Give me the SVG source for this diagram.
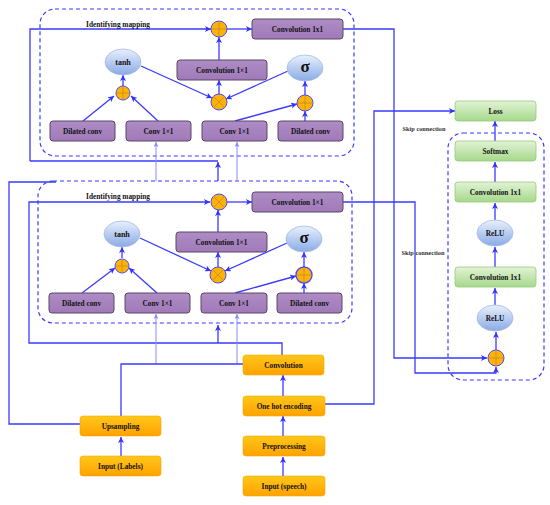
<svg xmlns="http://www.w3.org/2000/svg" width="550" height="505" viewBox="0 0 550 505">
<defs>
<linearGradient id="gOr" x1="0" y1="0" x2="0" y2="1"><stop offset="0" stop-color="#ffc71a"/><stop offset="1" stop-color="#ffa200"/></linearGradient>
<linearGradient id="gGr" x1="0" y1="0" x2="0" y2="1"><stop offset="0" stop-color="#e2f3d6"/><stop offset="1" stop-color="#a6d88b"/></linearGradient>
<linearGradient id="gPu" x1="0" y1="0" x2="0" y2="1"><stop offset="0" stop-color="#ae8cc4"/><stop offset="1" stop-color="#a07ab9"/></linearGradient>
<linearGradient id="gEl" x1="0" y1="0" x2="0" y2="1"><stop offset="0" stop-color="#e8f0fc"/><stop offset="1" stop-color="#8aaae6"/></linearGradient>
<marker id="ar" viewBox="0 0 10 10" refX="10" refY="5" markerWidth="6" markerHeight="6" markerUnits="userSpaceOnUse" orient="auto"><path d="M0,0 L10,5 L0,10 L2.5,5 z" fill="#3333ff"/></marker>
<marker id="arl" viewBox="0 0 10 10" refX="10" refY="5" markerWidth="5" markerHeight="5" markerUnits="userSpaceOnUse" orient="auto"><path d="M0,0 L10,5 L0,10 L2.5,5 z" fill="#8a8aff"/></marker>
</defs>
<style>
text{font-family:"Liberation Serif","Times New Roman",serif;font-weight:bold;font-size:7.3px;fill:#111;text-anchor:middle;dominant-baseline:central}
.pu{fill:url(#gPu);stroke:#5a4766;stroke-width:1}
.or{fill:url(#gOr);stroke:#f2a800;stroke-width:0.6}
.gr{fill:url(#gGr);stroke:#97cc7c;stroke-width:0.8}
.el{fill:url(#gEl);stroke:#a4bbe6;stroke-width:0.8}
.ci{fill:#ffb300;stroke:#4a4aff;stroke-width:1}
.cx{stroke:#b98a3a;stroke-width:0.8;fill:none}
.dash{fill:none;stroke:#3a3aff;stroke-width:1.2;stroke-dasharray:4 3}
.ln{fill:none;stroke:#3a3aff;stroke-width:1.3}
.la{fill:none;stroke:#3a3aff;stroke-width:1.3;marker-end:url(#ar)}
.lt{fill:none;stroke:#8a8aff;stroke-width:1;marker-end:url(#arl)}
.sk{font-size:6.3px;fill:#333}
.sig{font-size:17px}
.tanh{font-size:8px}
</style>

<g id="frames">
<rect class="dash" x="40" y="9" width="314" height="147" rx="15"/>
<rect class="dash" x="38" y="181" width="314" height="142" rx="15"/>
<rect class="dash" x="448" y="133" width="96" height="247" rx="15"/>
</g>

<g id="connectors">
<path class="la" d="M83,121 L114,96"/>
<path class="la" d="M158,121 L131,96"/>
<path class="la" d="M123,86 L123,75"/>
<path class="la" d="M141,66 L212,98"/>
<path class="la" d="M235,121 L297,104"/>
<path class="la" d="M288,71 L226,99"/>
<path class="la" d="M219,94 L219,80"/>
<path class="la" d="M219,60 L219,37"/>
<path class="la" d="M227,29 L252,29"/>
<path class="la" d="M305,121 L305,111"/>
<path class="la" d="M305,95 L305,81"/>
<path class="la" d="M30,161 L30,29 L211,29"/>
<path class="ln" d="M30,161 L218,161"/>
<path class="la" d="M218,181 L218,162"/>
<path class="lt" d="M156,181 L156,142"/>
<path class="lt" d="M237,181 L237,142"/>
<path class="la" d="M82,293 L115,268"/>
<path class="la" d="M157,293 L129,268"/>
<path class="la" d="M122,258 L122,247"/>
<path class="la" d="M140,238 L211,271"/>
<path class="la" d="M235,293 L296,276"/>
<path class="la" d="M287,243 L225,271"/>
<path class="la" d="M218,267 L218,252"/>
<path class="la" d="M218,232 L218,210"/>
<path class="la" d="M227,202 L252,202"/>
<path class="la" d="M304,293 L304,283"/>
<path class="la" d="M304,267 L304,252"/>
<path class="la" d="M282,355 L282,343 L29,343 L29,202 L210,202"/>
<path class="la" d="M218,343 L218,325"/>
<path class="lt" d="M156,364 L156,314"/>
<path class="lt" d="M237,364 L237,314"/>
<path class="ln" d="M121,416 L121,364 L243,364"/>
<path class="ln" d="M80,424 L9,424 L9,182 L56,182"/>
<path class="la" d="M343,29 L394,29 L394,358 L487,358"/>
<path class="la" d="M343,202 L415,202 L415,373 L496,373 L496,367"/>
<path class="la" d="M325,404 L374,404 L374,111 L455,111"/>
<path class="la" d="M121,456 L121,437"/>
<path class="la" d="M283,476 L283,457"/>
<path class="la" d="M283,436 L283,416"/>
<path class="la" d="M283,396 L283,375"/>
<path class="la" d="M496,350 L496,332"/>
<path class="la" d="M495,305 L495,288"/>
<path class="la" d="M495,267 L495,247"/>
<path class="la" d="M495,220 L495,203"/>
<path class="la" d="M495,182 L495,162"/>
<path class="la" d="M495,141 L495,121"/>
</g>

<g id="labels">
<text x="118" y="24">Identifying mapping</text>
<text x="118" y="196">Identifying mapping</text>
<text class="sk" x="424" y="128">Skip connection</text>
<text class="sk" x="423" y="252">Skip connection</text>
</g>

<g id="b1-dil1"><rect class="pu" x="50" y="121" width="65" height="20" rx="3"/><text x="82.5" y="131">Dilated conv</text></g>
<g id="b1-c1"><rect class="pu" x="126" y="121" width="65" height="20" rx="3"/><text x="158.5" y="131">Conv 1×1</text></g>
<g id="b1-c2"><rect class="pu" x="202" y="121" width="65" height="20" rx="3"/><text x="234.5" y="131">Conv 1×1</text></g>
<g id="b1-dil2"><rect class="pu" x="278" y="121" width="65" height="20" rx="3"/><text x="310.5" y="131">Dilated conv</text></g>
<g id="b1-tanh"><ellipse class="el" cx="123" cy="62" rx="18" ry="13"/><text class="tanh" x="123" y="62">tanh</text></g>
<g id="b1-sig"><ellipse class="el" cx="305" cy="68" rx="18" ry="13"/><text class="sig" x="305" y="66">σ</text></g>
<g id="b1-plusL"><circle class="ci" cx="123" cy="93" r="7"/><path class="cx" d="M116,93 H130 M123,86 V100"/></g>
<g id="b1-plusR"><circle class="ci" cx="305" cy="103" r="8"/><path class="cx" d="M297,103 H313 M305,95 V111"/></g>
<g id="b1-mul"><circle class="ci" cx="219" cy="102" r="8"/><path class="cx" d="M213.3,96.3 L224.7,107.7 M224.7,96.3 L213.3,107.7"/></g>
<g id="b1-plusT"><circle class="ci" cx="219" cy="29" r="8"/><path class="cx" d="M211,29 H227 M219,21 V37"/></g>
<g id="b1-conv"><rect class="pu" x="177" y="60" width="90" height="20" rx="3"/><text x="222" y="70">Convolution 1×1</text></g>
<g id="b1-convout"><rect class="pu" x="252" y="19" width="91" height="20" rx="3"/><text x="297.5" y="29">Convolution 1x1</text></g>

<g id="b2-dil1"><rect class="pu" x="49" y="293" width="65" height="20" rx="3"/><text x="81.5" y="303">Dilated conv</text></g>
<g id="b2-c1"><rect class="pu" x="125" y="293" width="65" height="20" rx="3"/><text x="157.5" y="303">Conv 1×1</text></g>
<g id="b2-c2"><rect class="pu" x="201" y="293" width="66" height="20" rx="3"/><text x="234" y="303">Conv 1×1</text></g>
<g id="b2-dil2"><rect class="pu" x="277" y="293" width="65" height="20" rx="3"/><text x="309.5" y="303">Dilated conv</text></g>
<g id="b2-tanh"><ellipse class="el" cx="122" cy="234" rx="18" ry="13"/><text class="tanh" x="122" y="234">tanh</text></g>
<g id="b2-sig"><ellipse class="el" cx="304" cy="239" rx="18" ry="13"/><text class="sig" x="304" y="237">σ</text></g>
<g id="b2-plusL"><circle class="ci" cx="122" cy="266" r="7"/><path class="cx" d="M115,266 H129 M122,259 V273"/></g>
<g id="b2-plusR"><circle class="ci" cx="304" cy="275" r="8" style="stroke-width:1.4"/><path class="cx" d="M296,275 H312 M304,267 V283"/></g>
<g id="b2-mul"><circle class="ci" cx="218" cy="275" r="8"/><path class="cx" d="M212.3,269.3 L223.7,280.7 M223.7,269.3 L212.3,280.7"/></g>
<g id="b2-mulT"><circle class="ci" cx="219" cy="202" r="8"/><path class="cx" d="M213.3,196.3 L224.7,207.7 M224.7,196.3 L213.3,207.7"/></g>
<g id="b2-conv"><rect class="pu" x="176" y="232" width="91" height="20" rx="3"/><text x="221.5" y="242">Convolution 1×1</text></g>
<g id="b2-convout"><rect class="pu" x="252" y="192" width="91" height="20" rx="3"/><text x="297.5" y="202">Convolution 1×1</text></g>

<g id="upsampling"><rect class="or" x="80" y="416" width="81" height="20" rx="3"/><text x="120.5" y="426">Upsampling</text></g>
<g id="input-labels"><rect class="or" x="80" y="456" width="81" height="20" rx="3"/><text x="120.5" y="466">Input (Labels)</text></g>
<g id="convolution"><rect class="or" x="243" y="355" width="81" height="20" rx="3"/><text x="283.5" y="365">Convolution</text></g>
<g id="onehot"><rect class="or" x="243" y="396" width="82" height="20" rx="3"/><text x="284" y="406">One hot encoding</text></g>
<g id="preproc"><rect class="or" x="243" y="436" width="82" height="20" rx="3"/><text x="284" y="446">Preprocessing</text></g>
<g id="input-speech"><rect class="or" x="243" y="476" width="82" height="20" rx="3"/><text x="284" y="486">Input (speech)</text></g>

<g id="loss"><rect class="gr" x="455" y="101" width="81" height="20" rx="3"/><text x="495.5" y="111">Loss</text></g>
<g id="softmax"><rect class="gr" x="455" y="141" width="81" height="20" rx="3"/><text x="495.5" y="151">Softmax</text></g>
<g id="rconv1"><rect class="gr" x="455" y="182" width="81" height="20" rx="3"/><text x="495.5" y="192">Convolution 1x1</text></g>
<g id="relu1"><ellipse class="el" cx="495" cy="233" rx="18" ry="13"/><text x="495" y="233">ReLU</text></g>
<g id="rconv2"><rect class="gr" x="455" y="267" width="81" height="20" rx="3"/><text x="495.5" y="277">Convolution 1x1</text></g>
<g id="relu2"><ellipse class="el" cx="495" cy="318" rx="18" ry="13"/><text x="495" y="318">ReLU</text></g>
<g id="rplus"><circle class="ci" cx="496" cy="358" r="8"/><path class="cx" d="M488,358 H504 M496,350 V366"/></g>
</svg>
